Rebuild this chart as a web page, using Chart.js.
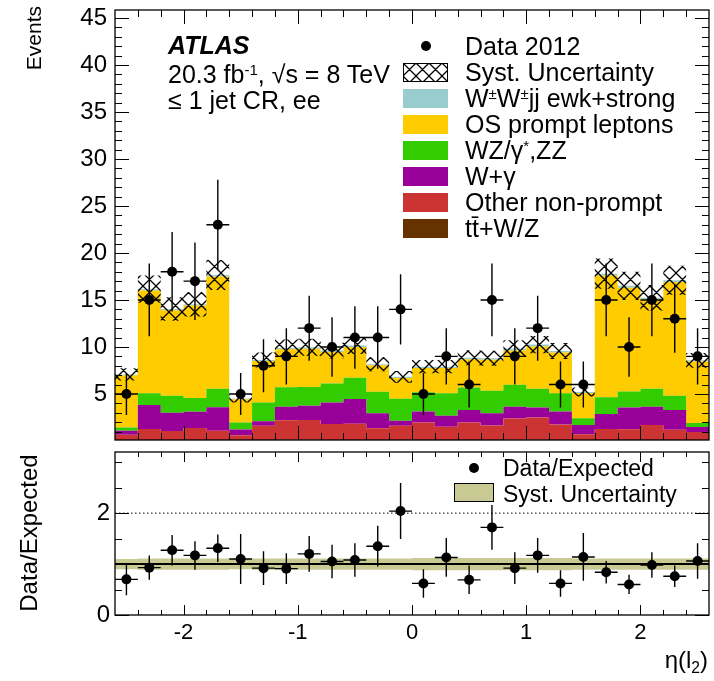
<!DOCTYPE html>
<html>
<head>
<meta charset="utf-8">
<title>eta(l2), ≤ 1 jet CR, ee</title>
<script src="https://cdn.jsdelivr.net/npm/chart.js"></script>
<style>
  html, body { margin: 0; padding: 0; background: #fff; }
  #wrap { position: relative; width: 714px; height: 681px; overflow: hidden;
          font-family: "Liberation Sans", Arial, Helvetica, sans-serif; color: #000; }
  #wrap canvas { position: absolute; left: 0; }
  .txt { position: absolute; white-space: nowrap; line-height: 1; }
  .sup { font-size: 60%; position: relative; top: -0.55em; }
  .sub { font-size: 65%; position: relative; top: 0.3em; }
  .box { position: absolute; box-sizing: border-box; }
  .dot { position: absolute; border-radius: 50%; background: #000; }
  .vtitle { position: absolute; width: 300px; line-height: 1; white-space: nowrap;
            transform-origin: 0 0; transform: rotate(-90deg); }
</style>
</head>
<body>
<div id="wrap">
  <canvas id="mainCanvas" width="714" height="445" style="top:0"></canvas>
  <canvas id="ratioCanvas" width="714" height="236" style="top:445px"></canvas>

  <!-- axis titles -->
  <div class="vtitle" style="left:23px;top:306px;font-size:21px;text-align:right">Events</div>
  <div class="vtitle" style="left:17px;top:683px;font-size:24px;text-align:center">Data/Expected</div>
  <div class="txt" style="right:6px;top:648px;font-size:24px">η(l<span class="sub">2</span>)</div>

  <!-- ATLAS label -->
  <div class="txt" style="left:168px;top:33px;font-size:25px;font-weight:bold;font-style:italic">ATLAS</div>
  <div class="txt" style="left:168px;top:62px;font-size:25px">20.3 fb<span class="sup">-1</span>, √s = 8 TeV</div>
  <div class="txt" style="left:168px;top:88px;font-size:25px">≤ 1 jet CR, ee</div>

  <!-- legend, upper panel -->
  <div id="legend"></div>

  <!-- legend, ratio panel -->
  <div class="dot" style="left:469px;top:463px;width:10px;height:10px"></div>
  <div class="txt" style="left:503px;top:457px;font-size:23px">Data/Expected</div>
  <div class="box" style="left:454px;top:483px;width:40px;height:19px;background:#c9c994;border:1.5px solid #000"></div>
  <div class="txt" style="left:503px;top:483px;font-size:23px">Syst. Uncertainty</div>
</div>

<script>
// eta of the subleading lepton, bins of 0.2
const binCenters = [-2.5, -2.3, -2.1, -1.9, -1.7, -1.5, -1.3, -1.1, -0.9, -0.7, -0.5, -0.3, -0.1,
                    0.1, 0.3, 0.5, 0.7, 0.9, 1.1, 1.3, 1.5, 1.7, 1.9, 2.1, 2.3, 2.5];
const binHalfWidth = 0.1;

// expected backgrounds, bottom of the stack first
const ttbarWZ        = [0.08, 0.1, 0.1, 0.1, 0.1, 0.08, 0.1, 0.12, 0.12, 0.1, 0.1, 0.1, 0.1,
                        0.1, 0.1, 0.1, 0.1, 0.12, 0.12, 0.1, 0.08, 0.1, 0.1, 0.1, 0.1, 0.08];
const otherNonPrompt = [0.58, 1.17, 0.96, 1.29, 0.98, 0.53, 1.51, 2.08, 2.11, 1.7, 1.74, 1.25, 1.51,
                        1.85, 1.42, 1.85, 1.53, 2.28, 2.38, 1.64, 0.64, 1.17, 1.14, 1.6, 1.1, 0.87];
const wGamma         = [0.42, 2.56, 1.94, 1.71, 2.51, 0.62, 0.49, 1.43, 1.52, 2.28, 2.62, 1.6, 0.55,
                        1.19, 1.16, 1.35, 1.32, 1.25, 1.07, 1.38, 0.98, 1.6, 2.31, 1.95, 2.1, 0.53];
const wzZZ           = [0.35, 1.25, 1.82, 1.48, 1.95, 0.74, 1.98, 2.09, 1.99, 2.02, 2.26, 2.28, 2.32,
                        2.03, 2.4, 2.38, 2.38, 2.32, 1.99, 1.96, 0.72, 1.79, 1.7, 1.89, 1.5, 0.44];
const osPrompt       = [5.55, 10.92, 9.08, 9.82, 11.96, 2.47, 4.42, 4.03, 4.08, 3.36, 3.28, 2.82, 2.22,
                        2.58, 2.67, 3.02, 3.32, 3.66, 4.49, 4.34, 2.68, 12.94, 11.05, 9.5, 12.1, 6.54];
const wwjj           = [0.1, 0.15, 0.15, 0.15, 0.15, 0.08, 0.12, 0.15, 0.15, 0.15, 0.15, 0.12, 0.12,
                        0.15, 0.15, 0.15, 0.15, 0.2, 0.2, 0.15, 0.1, 0.2, 0.2, 0.2, 0.2, 0.12];
const systUnc        = [0.65, 1.45, 1.25, 1.3, 1.6, 0.42, 0.8, 0.9, 0.9, 0.85, 0.9, 0.75, 0.62,
                        0.7, 0.7, 0.8, 0.8, 0.88, 0.92, 0.86, 0.48, 1.6, 1.5, 1.35, 1.55, 0.78];

// data 2012
const dataCounts = [5, 15, 18, 17, 23, 5, 8, 9, 12, 10, 11, 11, 14, 5, 9, 6, 15, 9, 12, 6, 6, 15, 10, 15, 13, 9];
const dataErr    = [2.24, 3.87, 4.24, 4.12, 4.8, 2.24, 2.83, 3, 3.46, 3.16, 3.32, 3.32, 3.74,
                    2.24, 3, 2.45, 3.87, 3, 3.46, 2.45, 2.45, 3.87, 3.16, 3.87, 3.61, 3];

// lower panel
const ratioValues = [0.70, 0.93, 1.27, 1.17, 1.31, 1.10, 0.92, 0.91, 1.20, 1.05, 1.08, 1.35, 2.04,
                     0.62, 1.13, 0.69, 1.72, 0.92, 1.17, 0.62, 1.14, 0.84, 0.60, 0.98, 0.76, 1.06];
const ratioErr    = [0.31, 0.24, 0.30, 0.28, 0.27, 0.49, 0.33, 0.30, 0.35, 0.33, 0.33, 0.40, 0.55,
                     0.28, 0.38, 0.28, 0.44, 0.31, 0.34, 0.26, 0.47, 0.22, 0.19, 0.25, 0.21, 0.35];
const ratioSyst   = [0.10, 0.11, 0.11, 0.11, 0.11, 0.10, 0.11, 0.11, 0.11, 0.11, 0.11, 0.11, 0.11,
                     0.12, 0.12, 0.12, 0.12, 0.12, 0.12, 0.12, 0.11, 0.11, 0.11, 0.11, 0.11, 0.11];

// ticks
const xTickLabels = [-2, -1, 0, 1, 2];
const yTicksTop = [5, 10, 15, 20, 25, 30, 35, 40, 45];
const yTicksRatio = [0, 2];
const yMinorRatio = [0.5, 1, 1.5, 2.5, 3];

const FONT = "'Liberation Sans', Arial, Helvetica, sans-serif";

const layers = [
  { label: 't\u0304t+W/Z',               values: ttbarWZ,        color: '#663300' },
  { label: 'Other non-prompt',           values: otherNonPrompt, color: '#cc3333' },
  { label: 'W+\u03b3',                   values: wGamma,         color: '#990099' },
  { label: 'WZ/\u03b3*,ZZ',              values: wzZZ,           color: '#33cc00' },
  { label: 'OS prompt leptons',          values: osPrompt,       color: '#ffcc00' },
  { label: 'W\u00b1W\u00b1jj ewk+strong', values: wwjj,          color: '#99cccc' },
];

// hatch like ROOT's crosshatch fill
function makeHatch(size) {
  const c = document.createElement('canvas');
  c.width = size; c.height = size;
  const g = c.getContext('2d');
  g.strokeStyle = '#000';
  g.lineWidth = 1.3;
  g.beginPath();
  for (let k = -1; k <= 1; k++) {
    g.moveTo(k * size, 0); g.lineTo(k * size + size, size);
    g.moveTo(k * size + size, 0); g.lineTo(k * size, size);
  }
  g.stroke();
  return g.createPattern(c, 'repeat');
}
const hatch = makeHatch(13);

// histogram outline as step points on the bin edges
function stepPoints(vals) {
  const pts = binCenters.map((c, i) => ({ x: c - binHalfWidth, y: vals[i] }));
  pts.push({ x: binCenters[binCenters.length - 1] + binHalfWidth, y: vals[vals.length - 1] });
  return pts;
}
function verticalBars(vals, errs) {
  const pts = [];
  binCenters.forEach((c, i) => {
    pts.push({ x: c, y: vals[i] - errs[i] }, { x: c, y: vals[i] + errs[i] }, { x: c, y: null });
  });
  return pts;
}
function horizontalBars(vals) {
  const pts = [];
  binCenters.forEach((c, i) => {
    pts.push({ x: c - binHalfWidth, y: vals[i] }, { x: c + binHalfWidth, y: vals[i] }, { x: c, y: null });
  });
  return pts;
}

// stack sums
let running = binCenters.map(() => 0);
const cumulative = layers.map(l => {
  running = running.map((r, i) => r + l.values[i]);
  return running;
});
const totalExpected = cumulative[cumulative.length - 1];

const stackSets = layers.map((l, k) => ({
  label: l.label,
  data: stepPoints(cumulative[k]),
  stepped: true,
  borderColor: 'rgba(0,0,0,0)',
  borderWidth: 0,
  backgroundColor: l.color,
  fill: k === 0 ? 'origin' : '-1',
  pointRadius: 0,
  order: 5,
}));

// frame with inward ticks on all four sides
const frameTicks = {
  id: 'frameTicks',
  afterDatasetsDraw(chart, args, o) {
    const { ctx, chartArea: a } = chart;
    const xs = chart.scales.x, ys = chart.scales.y;
    ctx.save();
    ctx.strokeStyle = '#000';
    ctx.lineWidth = 1;
    ctx.beginPath();
    const xTick = (v, len) => {
      const p = Math.round(xs.getPixelForValue(v)) + 0.5;
      ctx.moveTo(p, a.bottom); ctx.lineTo(p, a.bottom - len);
      ctx.moveTo(p, a.top); ctx.lineTo(p, a.top + len);
    };
    const yTick = (v, len) => {
      const p = Math.round(ys.getPixelForValue(v)) + 0.5;
      ctx.moveTo(a.left, p); ctx.lineTo(a.left + len, p);
      ctx.moveTo(a.right, p); ctx.lineTo(a.right - len, p);
    };
    o.xMinor.forEach(v => xTick(v, o.xMinLen));
    o.xMajor.forEach(v => xTick(v, o.xMajLen));
    o.yMinor.forEach(v => yTick(v, o.yMinLen));
    o.yMajor.forEach(v => yTick(v, o.yMajLen));
    ctx.stroke();
    ctx.lineWidth = 1.3;
    ctx.strokeRect(a.left, a.top, a.right - a.left, a.bottom - a.top);
    ctx.restore();
  }
};

const binEdges = binCenters.slice(1).map(c => c - binHalfWidth);
const xMinorTicks = binEdges.filter(e => !xTickLabels.some(t => Math.abs(t - e) < 1e-6));

function yScale(min, max, ticks, pad) {
  return {
    min, max,
    afterFit: s => { s.width = 115; s.paddingTop = 0; s.paddingBottom = 0; },
    afterBuildTicks: s => { s.ticks = ticks.map(v => ({ value: v })); },
    grid: { drawOnChartArea: false, drawTicks: false },
    border: { display: false },
    ticks: { color: '#000', font: { family: FONT, size: 24 }, padding: pad },
  };
}

new Chart(document.getElementById('mainCanvas'), {
  type: 'line',
  data: {
    datasets: [
      ...stackSets,
      {
        label: 'systLow',
        data: stepPoints(totalExpected.map((t, i) => t - systUnc[i])),
        stepped: true, borderColor: 'rgba(0,0,0,0)', borderWidth: 0, pointRadius: 0, fill: false, order: 3,
      },
      {
        label: 'Syst. Uncertainty',
        data: stepPoints(totalExpected.map((t, i) => t + systUnc[i])),
        stepped: true, borderColor: 'rgba(0,0,0,0)', borderWidth: 0, pointRadius: 0,
        backgroundColor: hatch, fill: '-1', order: 3,
      },
      {
        label: 'dataErrV', data: verticalBars(dataCounts, dataErr),
        borderColor: '#000', borderWidth: 1.4, pointRadius: 0, fill: false, order: 1,
      },
      {
        label: 'dataErrH', data: horizontalBars(dataCounts),
        borderColor: '#000', borderWidth: 1.4, pointRadius: 0, fill: false, order: 1,
      },
      {
        type: 'scatter', label: 'Data 2012',
        data: binCenters.map((c, i) => ({ x: c, y: dataCounts[i] })),
        pointRadius: 5, pointBackgroundColor: '#000', pointBorderWidth: 0, showLine: false, order: 0,
      },
    ]
  },
  options: {
    responsive: false,
    animation: false,
    events: [],
    layout: { padding: { top: 10, right: 4, bottom: 5, left: 0 } },
    plugins: {
      legend: { display: false },
      tooltip: { enabled: false },
      frameTicks: {
        xMajor: xTickLabels, xMinor: xMinorTicks, xMajLen: 14, xMinLen: 7,
        yMajor: yTicksTop, yMinor: Array.from({ length: 45 }, (_, i) => i + 1), yMajLen: 14, yMinLen: 7,
      },
    },
    scales: {
      x: { type: 'linear', min: -2.6, max: 2.6, display: false },
      y: yScale(0.1, 45.85, yTicksTop, 8),
    }
  },
  plugins: [frameTicks]
});

new Chart(document.getElementById('ratioCanvas'), {
  type: 'line',
  data: {
    datasets: [
      {
        label: 'bandLow', data: stepPoints(ratioSyst.map(s => 1 - s)),
        stepped: true, borderColor: 'rgba(0,0,0,0)', borderWidth: 0, pointRadius: 0, fill: false, order: 4,
      },
      {
        label: 'Syst. Uncertainty', data: stepPoints(ratioSyst.map(s => 1 + s)),
        stepped: true, borderColor: 'rgba(0,0,0,0)', borderWidth: 0, pointRadius: 0,
        backgroundColor: '#c9c994', fill: '-1', order: 4,
      },
      {
        label: 'unity', data: [{ x: -2.6, y: 1 }, { x: 2.6, y: 1 }],
        borderColor: '#000', borderWidth: 2, pointRadius: 0, fill: false, order: 3,
      },
      {
        label: 'two', data: [{ x: -2.6, y: 2 }, { x: 2.6, y: 2 }],
        borderColor: '#000', borderWidth: 1, borderDash: [1.5, 2.5], pointRadius: 0, fill: false, order: 3,
      },
      {
        label: 'ratioErrV', data: verticalBars(ratioValues, ratioErr),
        borderColor: '#000', borderWidth: 1.4, pointRadius: 0, fill: false, order: 1,
      },
      {
        label: 'ratioErrH', data: horizontalBars(ratioValues),
        borderColor: '#000', borderWidth: 1.4, pointRadius: 0, fill: false, order: 1,
      },
      {
        type: 'scatter', label: 'Data/Expected',
        data: binCenters.map((c, i) => ({ x: c, y: ratioValues[i] })),
        pointRadius: 5, pointBackgroundColor: '#000', pointBorderWidth: 0, showLine: false, order: 0,
      },
    ]
  },
  options: {
    responsive: false,
    animation: false,
    events: [],
    layout: { padding: { top: 7, right: 4, bottom: 0, left: 0 } },
    plugins: {
      legend: { display: false },
      tooltip: { enabled: false },
      frameTicks: {
        xMajor: xTickLabels, xMinor: xMinorTicks, xMajLen: 10, xMinLen: 5,
        yMajor: yTicksRatio, yMinor: yMinorRatio, yMajLen: 14, yMinLen: 7,
      },
    },
    scales: {
      x: {
        type: 'linear', min: -2.6, max: 2.6,
        afterFit: s => { s.height = 66; s.paddingLeft = 0; s.paddingRight = 0; },
        afterBuildTicks: s => { s.ticks = xTickLabels.map(v => ({ value: v })); },
        grid: { drawOnChartArea: false, drawTicks: false },
        border: { display: false },
        ticks: { color: '#000', font: { family: FONT, size: 22 }, padding: 5, autoSkip: false, maxRotation: 0 },
      },
      y: yScale(0, 3.2, yTicksRatio, 5),
    }
  },
  plugins: [frameTicks]
});

// upper legend, drawn as html so the labels keep their super/subscripts
const legendRows = [
  { kind: 'dot',   html: 'Data 2012' },
  { kind: 'hatch', html: 'Syst. Uncertainty' },
  { kind: '#99cccc', html: 'W<span class="sup">\u00b1</span>W<span class="sup">\u00b1</span>jj ewk+strong' },
  { kind: '#ffcc00', html: 'OS prompt leptons' },
  { kind: '#33cc00', html: 'WZ/\u03b3<span class="sup">*</span>,ZZ' },
  { kind: '#990099', html: 'W+\u03b3' },
  { kind: '#cc3333', html: 'Other non-prompt' },
  { kind: '#663300', html: 'tt\u0304+W/Z' },
];
const legendEl = document.getElementById('legend');
legendRows.forEach((row, k) => {
  const cy = 46 + k * 26;
  if (row.kind === 'dot') {
    const d = document.createElement('div');
    d.className = 'dot';
    d.style.cssText = `left:${421}px;top:${cy - 5}px;width:10px;height:10px`;
    legendEl.appendChild(d);
  } else if (row.kind === 'hatch') {
    const c = document.createElement('canvas');
    c.width = 45; c.height = 19;
    c.style.cssText = `left:403px;top:${cy - 9}px`;
    const g = c.getContext('2d');
    g.fillStyle = hatch; g.fillRect(0, 0, 45, 19);
    g.strokeStyle = '#000'; g.lineWidth = 1; g.strokeRect(0.5, 0.5, 44, 18);
    legendEl.appendChild(c);
  } else {
    const b = document.createElement('div');
    b.className = 'box';
    b.style.cssText = `left:403px;top:${cy - 9}px;width:45px;height:19px;background:${row.kind}`;
    legendEl.appendChild(b);
  }
  const t = document.createElement('div');
  t.className = 'txt';
  t.style.cssText = `left:465px;top:${cy - 12}px;font-size:25px`;
  t.innerHTML = row.html;
  legendEl.appendChild(t);
});
</script>
</body>
</html>
